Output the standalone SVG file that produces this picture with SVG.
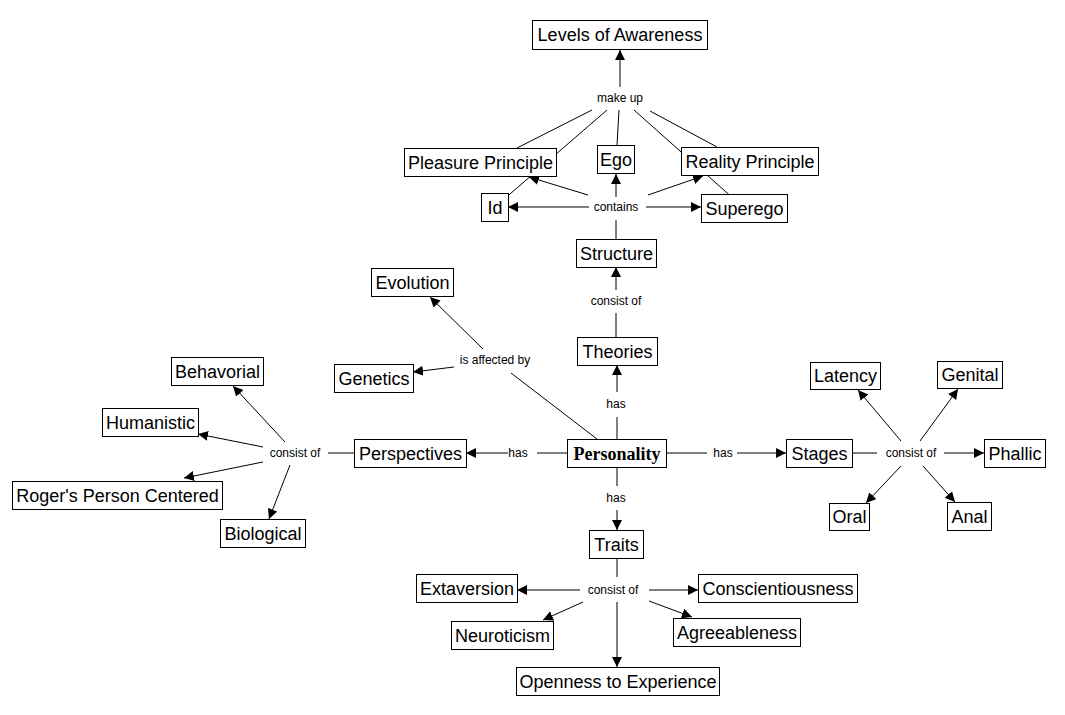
<svg xmlns="http://www.w3.org/2000/svg" width="1065" height="715" viewBox="0 0 1065 715">
<defs>
<marker id="arr" markerUnits="userSpaceOnUse" markerWidth="11" markerHeight="11" refX="10" refY="5" orient="auto"><path d="M0,0 L10,5 L0,10 z" fill="#000"/></marker>
<style>
.n rect{fill:#fff;stroke:#000;stroke-width:1}
.n text{font-family:"Liberation Sans",Arial,sans-serif;font-size:18px;text-anchor:middle;fill:#000}
.n text.s{font-family:"Liberation Serif","Times New Roman",serif;font-weight:bold;font-size:18px}
.c path{fill:none;stroke:#000;stroke-width:1}
.c path.a{marker-end:url(#arr)}
.l text{font-family:"Liberation Sans",Arial,sans-serif;font-size:12px;text-anchor:middle;fill:#000}
</style>
</defs>
<rect x="0" y="0" width="1065" height="715" fill="#fff"/>
<g id="connectors" class="c">
<path d="M495 207 L607 110"/>
<path d="M744 208 L634 110"/>
<path d="M517 148 L592 110"/>
<path d="M617 145 L619 110"/>
<path d="M717 147 L650 111"/>
<path class="a" d="M620 87 L620 50"/>
<path d="M616 239 L616 220"/>
<path class="a" d="M589 207 L508 207"/>
<path class="a" d="M646 207 L701 207"/>
<path class="a" d="M616 197 L616 174"/>
<path class="a" d="M588 195 L529 177"/>
<path class="a" d="M648 195 L703 176"/>
<path d="M616 337 L616 313"/>
<path class="a" d="M616 290 L616 267"/>
<path d="M597 439 L511 373"/>
<path class="a" d="M483 349 L430 297"/>
<path class="a" d="M454 367 L413 372"/>
<path d="M617 439 L617 417"/>
<path class="a" d="M617 392 L617 365"/>
<path d="M567 453 L537 453"/>
<path class="a" d="M508 453 L466 453"/>
<path d="M354 453 L328 453"/>
<path class="a" d="M285 442 L233 386"/>
<path class="a" d="M263 447 L198 434"/>
<path class="a" d="M263 462 L184 478"/>
<path class="a" d="M290 465 L269 519"/>
<path d="M666 453 L707 453"/>
<path class="a" d="M737 453 L786 453"/>
<path d="M852 453 L877 453"/>
<path class="a" d="M944 453 L984 453"/>
<path class="a" d="M901 441 L858 390"/>
<path class="a" d="M920 441 L958 389"/>
<path class="a" d="M901 466 L866 503"/>
<path class="a" d="M923 466 L955 502"/>
<path d="M617 467 L617 486"/>
<path class="a" d="M617 510 L617 530"/>
<path d="M617 558 L617 577"/>
<path class="a" d="M580 590 L517 590"/>
<path class="a" d="M649 590 L698 590"/>
<path class="a" d="M583 602 L543 620"/>
<path class="a" d="M649 601 L692 617"/>
<path class="a" d="M617 602 L617 667"/>
<g id="linking-phrases" class="l">
<text x="620" y="102">make up</text>
<text x="616" y="211">contains</text>
<text x="616" y="305">consist of</text>
<text x="495" y="364">is affected by</text>
<text x="616" y="408">has</text>
<text x="518" y="457">has</text>
<text x="295" y="457">consist of</text>
<text x="723" y="457">has</text>
<text x="911" y="457">consist of</text>
<text x="616" y="502">has</text>
<text x="613" y="594">consist of</text>
</g>
</g>
<g id="levels" class="n"><rect x="532.5" y="20.5" width="175" height="29"/><text x="620" y="41">Levels of Awareness</text></g>
<g id="pleasure" class="n"><rect x="404.5" y="148.5" width="152" height="28"/><text x="480.5" y="168.5">Pleasure Principle</text></g>
<g id="ego" class="n"><rect x="597.5" y="145.5" width="37" height="28"/><text x="616" y="165.5">Ego</text></g>
<g id="reality" class="n"><rect x="681.5" y="147.5" width="137" height="28"/><text x="750" y="167.5">Reality Principle</text></g>
<g id="id" class="n"><rect x="481.5" y="193.5" width="27" height="28"/><text x="495" y="213.5">Id</text></g>
<g id="superego" class="n"><rect x="701.5" y="194.5" width="86" height="28"/><text x="744.5" y="214.5">Superego</text></g>
<g id="structure" class="n"><rect x="576.5" y="239.5" width="80" height="28"/><text x="616.5" y="259.5">Structure</text></g>
<g id="evolution" class="n"><rect x="371.5" y="268.5" width="82" height="28"/><text x="412.5" y="288.5">Evolution</text></g>
<g id="theories" class="n"><rect x="577.5" y="337.5" width="80" height="28"/><text x="617.5" y="357.5">Theories</text></g>
<g id="genetics" class="n"><rect x="334.5" y="364.5" width="79" height="28"/><text x="374" y="384.5">Genetics</text></g>
<g id="behavorial" class="n"><rect x="171.5" y="357.5" width="92" height="28"/><text x="217.5" y="377.5">Behavorial</text></g>
<g id="humanistic" class="n"><rect x="102.5" y="408.5" width="96" height="28"/><text x="150.5" y="428.5">Humanistic</text></g>
<g id="perspectives" class="n"><rect x="354.5" y="439.5" width="112" height="28"/><text x="410.5" y="459.5">Perspectives</text></g>
<g id="personality" class="n"><rect x="567.5" y="439.5" width="99" height="28"/><text class="s" x="617" y="459.5">Personality</text></g>
<g id="stages" class="n"><rect x="786.5" y="439.5" width="66" height="28"/><text x="819.5" y="459.5">Stages</text></g>
<g id="phallic" class="n"><rect x="984.5" y="439.5" width="61" height="28"/><text x="1015" y="459.5">Phallic</text></g>
<g id="latency" class="n"><rect x="810.5" y="362.5" width="70" height="27"/><text x="845.5" y="382">Latency</text></g>
<g id="genital" class="n"><rect x="937.5" y="361.5" width="65" height="27"/><text x="970" y="381">Genital</text></g>
<g id="oral" class="n"><rect x="829.5" y="503.5" width="40" height="27"/><text x="849.5" y="523">Oral</text></g>
<g id="anal" class="n"><rect x="947.5" y="502.5" width="44" height="28"/><text x="969.5" y="522.5">Anal</text></g>
<g id="rogers" class="n"><rect x="12.5" y="481.5" width="210" height="28"/><text x="117.5" y="501.5">Roger's Person Centered</text></g>
<g id="biological" class="n"><rect x="220.5" y="519.5" width="85" height="28"/><text x="263" y="539.5">Biological</text></g>
<g id="traits" class="n"><rect x="589.5" y="530.5" width="54" height="28"/><text x="616.5" y="550.5">Traits</text></g>
<g id="extaversion" class="n"><rect x="416.5" y="574.5" width="101" height="28"/><text x="467" y="594.5">Extaversion</text></g>
<g id="conscientiousness" class="n"><rect x="698.5" y="574.5" width="159" height="28"/><text x="778" y="594.5">Conscientiousness</text></g>
<g id="neuroticism" class="n"><rect x="451.5" y="621.5" width="102" height="28"/><text x="502.5" y="641.5">Neuroticism</text></g>
<g id="agreeableness" class="n"><rect x="673.5" y="618.5" width="127" height="28"/><text x="737" y="638.5">Agreeableness</text></g>
<g id="openness" class="n"><rect x="516.5" y="667.5" width="203" height="28"/><text x="618" y="687.5">Openness to Experience</text></g>
</svg>
